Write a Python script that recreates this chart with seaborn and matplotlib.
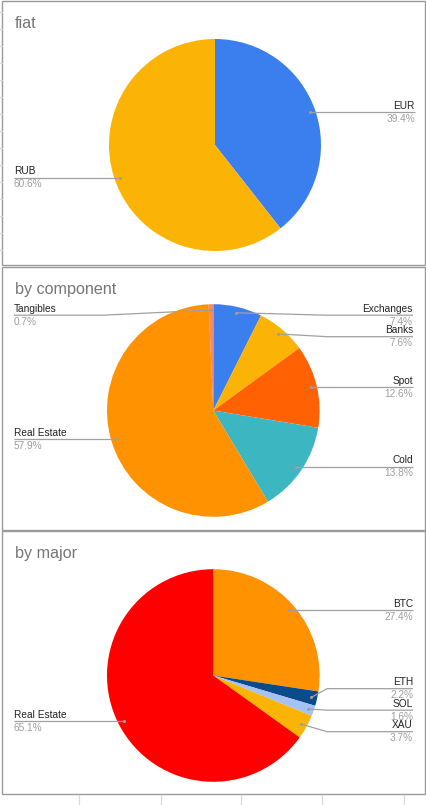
import numpy as np
import matplotlib
matplotlib.use("Agg")
import matplotlib.pyplot as plt
import seaborn as sns

# ---- data ----
fiat_labels = ["EUR", "RUB"]
fiat_values = [39.4, 60.6]
fiat_colors = ["#3b7eed", "#fbb406"]

comp_labels = ["Exchanges", "Banks", "Spot", "Cold", "Real Estate", "Tangibles"]
comp_values = [7.4, 7.6, 12.6, 13.8, 57.9, 0.7]
comp_colors = ["#3b7eed", "#fbb406", "#ff6103", "#3cb6c0", "#ff9200", "#f4896b"]

major_labels = ["BTC", "ETH", "SOL", "XAU", "Real Estate"]
major_values = [27.4, 2.2, 1.6, 3.7, 65.1]
major_colors = ["#ff9200", "#0b4a8b", "#a4c2f4", "#fbb406", "#ff0000"]

titles = ["fiat", "by component", "by major"]

W, H = 427, 805

sns.set_theme(style="white")
plt.rcParams['font.family'] = ['Liberation Sans', 'DejaVu Sans']

fig = plt.figure(figsize=(W / 100, H / 100), dpi=100)
ax = fig.add_axes([0, 0, 1, 1])


def Y(y):
    # top-based pixel row -> axes y
    return H - y


def spread(desired, gap, lo):
    # keep labels at least `gap` apart, centring clusters on their points
    order = np.argsort(desired)
    ds = [desired[i] for i in order]
    clusters = [[d] for d in ds]

    def start(c):
        return np.mean([d - k * gap for k, d in enumerate(c)])

    changed = True
    while changed:
        changed = False
        for i in range(len(clusters) - 1):
            a, b = clusters[i], clusters[i + 1]
            if start(a) + len(a) * gap > start(b):
                clusters[i] = a + b
                del clusters[i + 1]
                changed = True
                break
    out = []
    pos = lo
    for c in clusters:
        s = max(start(c), pos)
        for k in range(len(c)):
            out.append(s + k * gap)
        pos = s + len(c) * gap
    res = [0] * len(desired)
    for j, i in enumerate(order):
        res[i] = out[j]
    return res


def panel(top, bottom, title, labels, values, colors, cx, cy, r, right_x):
    ax.add_patch(plt.Rectangle((2.5, Y(bottom)), W - 4, bottom - top,
                               fill=False, ec="#9a9a9a", lw=1.0))
    ax.text(15, Y(top + 27), title, fontsize=11.6, color="#757575",
            ha="left", va="baseline")

    ax.pie(values, colors=colors, startangle=90, counterclock=False,
           center=(cx, Y(cy)), radius=r, wedgeprops=dict(linewidth=0))

    total = float(sum(values))
    frac = np.cumsum([0] + list(values)) / total
    mids = (frac[:-1] + frac[1:]) / 2
    ang = np.pi / 2 - mids * 2 * np.pi
    dx = cx + 0.945 * r * np.cos(ang)
    dy = cy - 0.945 * r * np.sin(ang)

    right = [i for i in range(len(values)) if dx[i] >= cx]
    left = [i for i in range(len(values)) if dx[i] < cx]
    ly = {}
    for side in (right, left):
        if side:
            got = spread([dy[i] for i in side], 21.5, cy - r + 11)
            for i, v in zip(side, got):
                ly[i] = v

    for i in range(len(values)):
        y = ly[i]
        if i in right:
            ex, tx, ha = cx + r * 1.07, right_x, "right"
        else:
            ex, tx, ha = cx - r * 1.04, 14, "left"
        ax.plot([dx[i], ex, tx], [Y(dy[i]), Y(y), Y(y)],
                color="#a0a0a0", lw=0.9, solid_capstyle="butt")
        ax.plot(dx[i], Y(dy[i]), "o", ms=2.2, color="#9e9e9e", mew=0)
        ax.text(tx, Y(y - 1.5), labels[i], fontsize=7.3, color="#222222",
                ha=ha, va="bottom")
        ax.text(tx, Y(y + 1.5), "%.1f%%" % (100 * values[i] / total),
                fontsize=7.3, color="#9e9e9e", ha=ha, va="top")


panel(1, 264.5, titles[0], fiat_labels, fiat_values, fiat_colors,
      215, 145, 106, 415)
panel(266.5, 530, titles[1], comp_labels, comp_values, comp_colors,
      213.3, 410.5, 106.3, 413)
panel(531, 794, titles[2], major_labels, major_values, major_colors,
      213.3, 675.5, 106.3, 413)

# spreadsheet cell borders peeking out around the charts
for yy in np.arange(12, 265, 17):
    ax.plot([0, 2], [Y(yy), Y(yy)], color="#d5d5d5", lw=0.8)
for xx in [79.5, 161, 241.5, 322.5, 404]:
    ax.plot([xx, xx], [Y(795), 0], color="#d9d9d9", lw=0.9)

# pie() resets limits, so fix the pixel frame last
ax.set_xlim(0, W)
ax.set_ylim(0, H)
ax.set_aspect("equal")
ax.axis("off")

fig.savefig("out.png", dpi=100)
